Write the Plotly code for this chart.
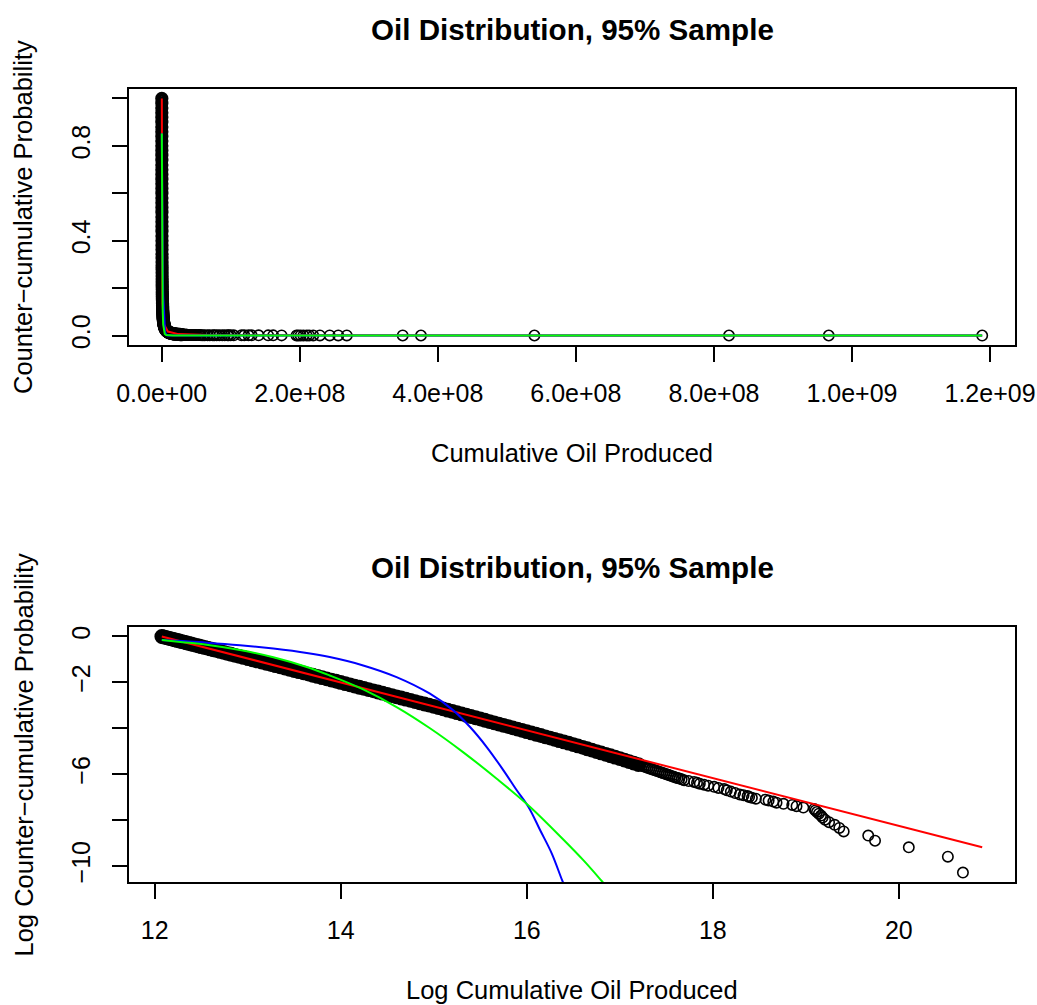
import numpy as np
import plotly.graph_objects as go

# ---------------- data ----------------
# dense part of the sample (log of cumulative oil, log of counter-cumulative probability)
band_log_oil = [
    12.076, 12.095, 12.115, 12.135, 12.156, 12.177, 12.199, 12.221, 12.243, 12.267,
    12.290, 12.315, 12.339, 12.365, 12.391, 12.418, 12.446, 12.475, 12.504, 12.535,
    12.566, 12.599, 12.632, 12.667, 12.704, 12.741, 12.780, 12.821, 12.864, 12.909,
    12.955, 13.005,
    13.05, 13.10, 13.15, 13.20, 13.25, 13.30, 13.35, 13.40, 13.45, 13.50,
    13.55, 13.60, 13.65, 13.70, 13.75, 13.80, 13.85, 13.90, 13.95, 14.00,
    14.05, 14.10, 14.15, 14.20, 14.25, 14.30, 14.35, 14.40, 14.45, 14.50,
    14.55, 14.60, 14.65, 14.70, 14.75, 14.80, 14.85, 14.90, 14.95, 15.00,
    15.05, 15.10, 15.15, 15.20, 15.25, 15.30, 15.35, 15.40, 15.45, 15.50,
    15.55, 15.60, 15.65, 15.70, 15.75, 15.80, 15.85, 15.90, 15.95, 16.00,
    16.05, 16.10, 16.15, 16.20, 16.25, 16.30, 16.35, 16.40, 16.45, 16.50,
    16.55, 16.60, 16.65, 16.70, 16.75, 16.80, 16.85, 16.90, 16.95, 17.00,
    17.05, 17.10, 17.15, 17.20,
]
band_log_ccdf = [
    0.000, -0.020, -0.041, -0.062, -0.083, -0.105, -0.128, -0.151, -0.174, -0.198,
    -0.223, -0.248, -0.274, -0.301, -0.329, -0.357, -0.386, -0.416, -0.446, -0.478,
    -0.511, -0.545, -0.580, -0.616, -0.654, -0.693, -0.734, -0.777, -0.821, -0.868,
    -0.916, -0.968,
    -1.015, -1.067, -1.119, -1.171, -1.223, -1.275, -1.328, -1.380, -1.432, -1.484,
    -1.536, -1.588, -1.640, -1.692, -1.744, -1.796, -1.849, -1.901, -1.953, -2.005,
    -2.057, -2.109, -2.161, -2.213, -2.265, -2.317, -2.370, -2.422, -2.474, -2.526,
    -2.578, -2.630, -2.682, -2.734, -2.786, -2.838, -2.891, -2.943, -2.995, -3.047,
    -3.102, -3.157, -3.212, -3.267, -3.322, -3.377, -3.433, -3.488, -3.543, -3.598,
    -3.653, -3.708, -3.763, -3.818, -3.873, -3.928, -3.984, -4.039, -4.094, -4.149,
    -4.205, -4.261, -4.317, -4.373, -4.429, -4.485, -4.541, -4.597, -4.653, -4.710,
    -4.771, -4.832, -4.893, -4.954, -5.015, -5.077, -5.138, -5.199, -5.260, -5.321,
    -5.386, -5.452, -5.517, -5.583,
]

# thinner part of the sample and the upper tail (individual circles)
tail_log_oil = [
    17.22, 17.24, 17.26, 17.28, 17.30, 17.32, 17.34, 17.36, 17.38, 17.40,
    17.42, 17.44, 17.46, 17.48, 17.50, 17.52, 17.54, 17.56, 17.58, 17.60, 17.62,
    17.640, 17.665, 17.691, 17.740, 17.799, 17.830, 17.860, 17.906, 17.950, 18.014,
    18.060, 18.122, 18.150, 18.194, 18.240, 18.290, 18.330, 18.374, 18.390, 18.420,
    18.463, 18.566, 18.600, 18.650, 18.685, 18.760, 18.854, 18.900, 18.973, 19.090,
    19.103, 19.120, 19.140, 19.163, 19.180, 19.207, 19.250, 19.310, 19.360, 19.407,
    19.671, 19.744, 20.107, 20.527, 20.689,
]
tail_log_ccdf = [
    -5.611, -5.639, -5.667, -5.695, -5.723, -5.751, -5.779, -5.807, -5.835, -5.863,
    -5.891, -5.919, -5.947, -5.975, -6.003, -6.031, -6.059, -6.087, -6.115, -6.143, -6.171,
    -6.194, -6.228, -6.263, -6.300, -6.338, -6.377, -6.418, -6.460, -6.504, -6.551,
    -6.600, -6.651, -6.705, -6.762, -6.823, -6.888, -6.921, -6.957, -6.993, -7.031,
    -7.070, -7.111, -7.153, -7.198, -7.244, -7.293, -7.344, -7.398, -7.456, -7.516,
    -7.581, -7.650, -7.724, -7.804, -7.891, -7.986, -8.092, -8.209, -8.343, -8.497,
    -8.679, -8.902, -9.190, -9.596, -10.289,
]

# largest well: counter-cumulative probability 0 (not drawn on the log panel)
max_oil = 1.1886e9
max_oil_ccdf = 0.0

# fitted curves (log scale)
power_log_oil = [12.076, 12.3, 12.6, 13.0, 13.5, 14.0, 15.0, 16.0, 17.0, 18.0, 19.0, 20.0, 20.896]
power_log_ccdf = [0.0, -0.233, -0.546, -0.963, -1.484, -2.005, -3.047, -4.089, -5.131, -6.173, -7.215, -8.257, -9.190]

exp_log_oil = [12.076, 12.557, 12.916, 13.275, 13.634, 13.881, 14.241, 14.600, 14.959, 15.210,
               15.390, 15.569, 15.749, 15.892, 16.018, 16.144, 16.269, 16.384, 16.45]
exp_log_ccdf = [-0.16, -0.27, -0.38, -0.53, -0.72, -0.90, -1.263, -1.771, -2.496, -3.222,
                -3.948, -4.819, -5.834, -6.705, -7.43, -8.447, -9.462, -10.667, -11.30]

lnorm_log_oil = [12.076, 12.30, 12.557, 12.916, 13.275, 13.634, 13.881, 14.241, 14.600, 14.959,
                 15.318, 15.677, 16.036, 16.395, 16.610, 16.808, 16.90]
lnorm_log_ccdf = [-0.16, -0.25, -0.36, -0.59, -0.91, -1.33, -1.70, -2.31, -3.077, -4.00,
                  -5.05, -6.20, -7.43, -8.86, -9.76, -10.667, -11.10]

# tick labels
top_x_ticks = [0, 2e8, 4e8, 6e8, 8e8, 1e9, 1.2e9]
top_x_labels = ["0.0e+00", "2.0e+08", "4.0e+08", "6.0e+08", "8.0e+08", "1.0e+09", "1.2e+09"]
top_y_ticks = [0.0, 0.2, 0.4, 0.6, 0.8, 1.0]
top_y_labels = ["0.0", "", "0.4", "", "0.8", ""]
bot_x_ticks = [12, 14, 16, 18, 20]
bot_x_labels = ["12", "14", "16", "18", "20"]
bot_y_ticks = [0, -2, -4, -6, -8, -10]
bot_y_labels = ["0", "\u22122", "", "\u22126", "", "\u221210"]

title_text = "Oil Distribution, 95% Sample"

# ---------------- derived values ----------------
band_oil = np.exp(band_log_oil)
band_ccdf = np.exp(band_log_ccdf)
tail_oil = np.concatenate([np.exp(tail_log_oil), [max_oil]])
tail_ccdf = np.concatenate([np.exp(tail_log_ccdf), [max_oil_ccdf]])


def r_range(values):
    lo, hi = float(np.min(values)), float(np.max(values))
    pad = 0.04 * (hi - lo)
    return [lo - pad, hi + pad]


all_oil = np.concatenate([band_oil, tail_oil])
all_ccdf = np.concatenate([band_ccdf, tail_ccdf])
top_xr = r_range(all_oil)
top_yr = r_range(all_ccdf)
bot_xr = r_range(np.log(all_oil))
bot_yr = r_range(np.concatenate([band_log_ccdf, tail_log_ccdf]))

W, H = 1037, 1005
FONT = "Liberation Sans, Arial, Helvetica, sans-serif"

dense_marker_top = dict(symbol="circle", size=8.3, color="rgba(0,0,0,0)",
                        line=dict(color="black", width=5))
dense_marker_bot = dict(symbol="circle", size=9.3, color="rgba(0,0,0,0)",
                        line=dict(color="black", width=5.5))
thin_marker = dict(symbol="circle", size=10.4, color="rgba(0,0,0,0)",
                   line=dict(color="black", width=1.6))

fig = go.Figure()

# ----- top panel -----
fig.add_trace(go.Scatter(x=band_oil, y=band_ccdf, mode="markers", marker=dense_marker_top,
                         xaxis="x", yaxis="y", showlegend=False, hoverinfo="skip"))
fig.add_trace(go.Scatter(x=tail_oil, y=tail_ccdf, mode="markers", marker=thin_marker,
                         xaxis="x", yaxis="y", showlegend=False, hoverinfo="skip"))
fig.add_trace(go.Scatter(x=np.exp(power_log_oil), y=np.exp(power_log_ccdf), mode="lines",
                         line=dict(color="#FF0000", width=2), xaxis="x", yaxis="y", showlegend=False))
fig.add_trace(go.Scatter(x=np.concatenate([np.exp(exp_log_oil), [max_oil]]),
                         y=np.concatenate([np.exp(exp_log_ccdf), [max_oil_ccdf]]), mode="lines",
                         line=dict(color="#0000FF", width=2), xaxis="x", yaxis="y", showlegend=False))
fig.add_trace(go.Scatter(x=np.concatenate([np.exp(lnorm_log_oil), [max_oil]]),
                         y=np.concatenate([np.exp(lnorm_log_ccdf), [max_oil_ccdf]]), mode="lines",
                         line=dict(color="#00FF00", width=2), xaxis="x", yaxis="y", showlegend=False))

# ----- bottom panel -----
fig.add_trace(go.Scatter(x=band_log_oil, y=band_log_ccdf, mode="markers", marker=dense_marker_bot,
                         xaxis="x2", yaxis="y2", showlegend=False, hoverinfo="skip"))
fig.add_trace(go.Scatter(x=tail_log_oil, y=tail_log_ccdf, mode="markers", marker=thin_marker,
                         xaxis="x2", yaxis="y2", showlegend=False, hoverinfo="skip"))
fig.add_trace(go.Scatter(x=power_log_oil, y=power_log_ccdf, mode="lines",
                         line=dict(color="#FF0000", width=2), xaxis="x2", yaxis="y2", showlegend=False))
fig.add_trace(go.Scatter(x=exp_log_oil, y=exp_log_ccdf, mode="lines",
                         line=dict(color="#0000FF", width=2, shape="spline"),
                         xaxis="x2", yaxis="y2", showlegend=False))
fig.add_trace(go.Scatter(x=lnorm_log_oil, y=lnorm_log_ccdf, mode="lines",
                         line=dict(color="#00FF00", width=2, shape="spline"),
                         xaxis="x2", yaxis="y2", showlegend=False))

axis_common = dict(showgrid=False, zeroline=False, showline=True, mirror=True,
                   linecolor="black", linewidth=1.6, ticks="outside", ticklen=15,
                   tickwidth=1.5, tickcolor="black", automargin=False,
                   tickfont=dict(family=FONT, size=25, color="black"))

x_dom = [129 / W, 1015 / W]
top_dom = [1 - 345 / H, 1 - 89 / H]
bot_dom = [1 - 882 / H, 1 - 627 / H]

fig.update_layout(
    width=W, height=H,
    margin=dict(l=0, r=0, t=0, b=0, pad=0),
    paper_bgcolor="white", plot_bgcolor="white",
    font=dict(family=FONT, color="black"),
    xaxis=dict(axis_common, domain=x_dom, anchor="y", range=top_xr,
               tickmode="array", tickvals=top_x_ticks, ticktext=top_x_labels,
               ticklabelstandoff=10),
    yaxis=dict(axis_common, domain=top_dom, anchor="x", range=top_yr,
               tickmode="array", tickvals=top_y_ticks, ticktext=top_y_labels,
               tickangle=-90, ticklabelstandoff=12),
    xaxis2=dict(axis_common, domain=x_dom, anchor="y2", range=bot_xr,
                tickmode="array", tickvals=bot_x_ticks, ticktext=bot_x_labels,
                ticklabelstandoff=10),
    yaxis2=dict(axis_common, domain=bot_dom, anchor="x2", range=bot_yr,
                tickmode="array", tickvals=bot_y_ticks, ticktext=bot_y_labels,
                tickangle=-90, ticklabelstandoff=12),
)

cx = (129 + 1015) / 2 / W
ann = [
    dict(text="<b>" + title_text + "</b>", x=cx, y=1 - 30 / H, size=29.6, angle=0),
    dict(text="Cumulative Oil Produced", x=cx, y=1 - 453 / H, size=25.5, angle=0),
    dict(text="Counter\u2212cumulative Probability", x=23 / W, y=1 - 217 / H, size=25.5, angle=-90),
    dict(text="<b>" + title_text + "</b>", x=cx, y=1 - 567 / H, size=29.6, angle=0),
    dict(text="Log Cumulative Oil Produced", x=cx, y=1 - 990 / H, size=25.5, angle=0),
    dict(text="Log Counter\u2212cumulative Probability", x=23 / W, y=1 - 754.5 / H, size=25.5, angle=-90),
]
for a in ann:
    fig.add_annotation(text=a["text"], x=a["x"], y=a["y"], xref="paper", yref="paper",
                       xanchor="center", yanchor="middle", showarrow=False,
                       textangle=a["angle"], font=dict(family=FONT, size=a["size"], color="black"))

fig.write_html("out.html", config={"displayModeBar": False},
               post_script="document.body.style.margin='0px';")
